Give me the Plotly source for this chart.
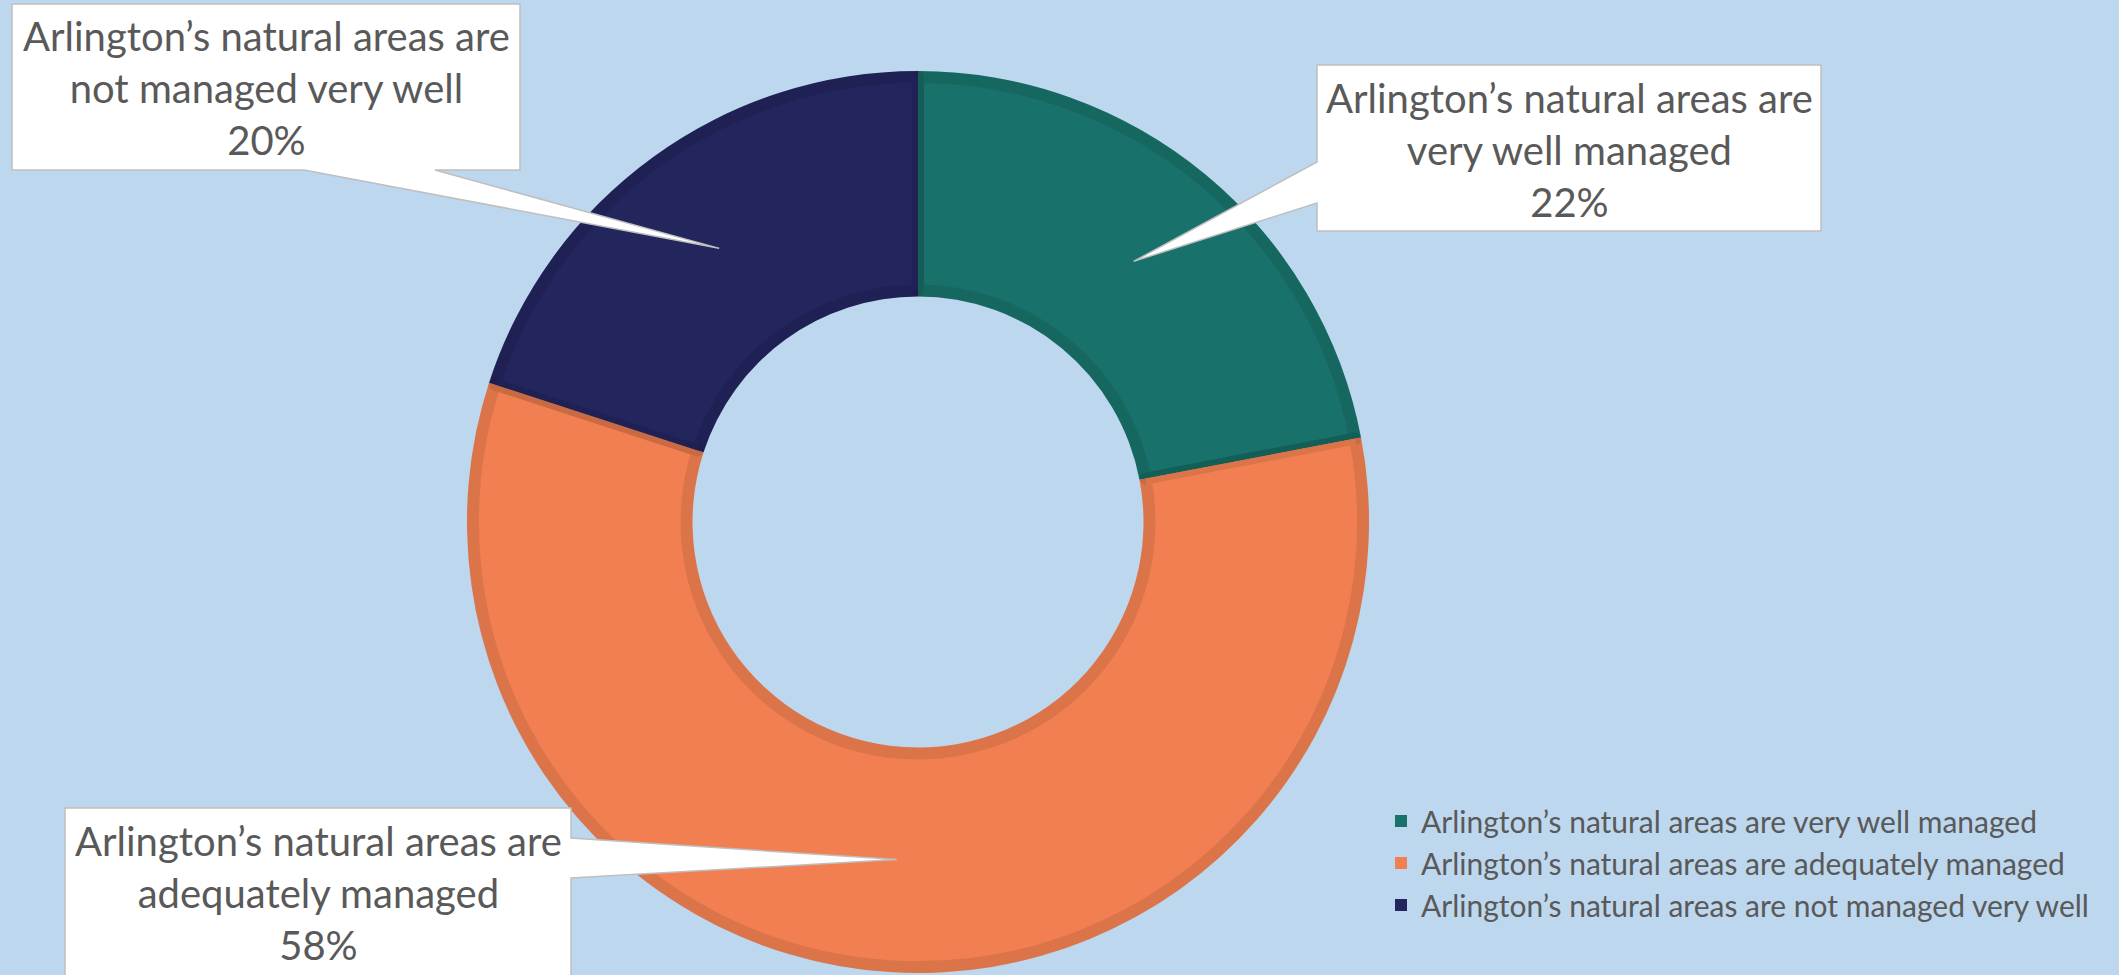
import math
import plotly.graph_objects as go

# ---- data ----
categories = [
    "Arlington’s natural areas are very well managed",
    "Arlington’s natural areas are adequately managed",
    "Arlington’s natural areas are not managed very well",
]
values = [22, 58, 20]
callout_lines = [
    ["Arlington’s natural areas are", "very well managed"],
    ["Arlington’s natural areas are", "adequately managed"],
    ["Arlington’s natural areas are", "not managed very well"],
]

# ---- style ----
fill_colors = ["#18716A", "#F17F51", "#23255D"]
BG = "#BDD7EE"
TEXT = "#595959"
FONT = "Lato"

W, H = 2119, 975
cx, cy, R = 918, 522, 451
HOLE = 0.5
BW = 12  # slice border width (px)


def px(x):
    return x / W


def py(y):
    return 1 - y / H


def dom(radius):
    return dict(x=[px(cx - radius), px(cx + radius)], y=[py(cy + radius), py(cy - radius)])


fig = go.Figure()
# base ring (full size, no outline)
fig.add_trace(go.Pie(
    labels=categories, values=values, hole=HOLE, sort=False,
    direction="clockwise", rotation=0, textinfo="none",
    hoverinfo="label+percent",
    marker=dict(colors=fill_colors, line=dict(width=0)),
    domain=dom(R),
))
# inset ring carrying a darkening outline so every slice shows a darker rim
R2 = R - BW / 2
hole2 = (R * HOLE + BW / 2) / R2
fig.add_trace(go.Pie(
    labels=categories, values=values, hole=hole2, sort=False,
    direction="clockwise", rotation=0, textinfo="none",
    hoverinfo="label+percent", showlegend=False,
    marker=dict(colors=fill_colors, line=dict(color="rgba(0,0,0,0.085)", width=BW)),
    domain=dom(R2),
))

# callout geometry (pixels): rect, side where the pointer leaves, pointer base, text centre
callouts = [
    dict(rect=(1317, 65, 1821, 231), side="left", base=(162, 203), tc=(1569, 150)),
    dict(rect=(65, 808, 571, 990), side="right", base=(838, 878), tc=(318, 893)),
    dict(rect=(12, 4, 520, 170), side="bottom", base=(304, 435), tc=(266, 88)),
]

total = sum(values)
cum = 0
shapes = []
annotations = []
for i, v in enumerate(values):
    mid = (cum + v / 2) / total
    cum += v
    th = mid * 2 * math.pi
    rr = R * (1 + HOLE) / 2
    tx = cx + rr * math.sin(th)
    ty = cy - rr * math.cos(th)
    c = callouts[i]
    l, t, r, b = c["rect"]
    b0, b1 = c["base"]
    if c["side"] == "left":
        pts = [(l, t), (r, t), (r, b), (l, b), (l, b1), (tx, ty), (l, b0)]
    elif c["side"] == "right":
        pts = [(l, t), (r, t), (r, b0), (tx, ty), (r, b1), (r, b), (l, b)]
    else:
        pts = [(l, t), (r, t), (r, b), (b1, b), (tx, ty), (b0, b), (l, b)]
    path = "M " + " L ".join(f"{px(x):.5f},{py(y):.5f}" for x, y in pts) + " Z"
    shapes.append(dict(type="path", xref="paper", yref="paper", path=path,
                       fillcolor="white", line=dict(color="#BFBFBF", width=1.5),
                       layer="above"))
    txt = "<br>".join(callout_lines[i] + [f"{v}%"])
    annotations.append(dict(xref="paper", yref="paper", x=px(c["tc"][0]), y=py(c["tc"][1]),
                            text=txt, showarrow=False, xanchor="center", yanchor="middle",
                            align="center", font=dict(family=FONT, size=40, color=TEXT)))

fig.update_layout(
    width=W, height=H,
    margin=dict(l=0, r=0, t=0, b=0),
    paper_bgcolor=BG, plot_bgcolor=BG,
    shapes=shapes, annotations=annotations,
    showlegend=True,
    legend=dict(x=px(1381), y=py(795), xanchor="left", yanchor="top",
                bgcolor="rgba(0,0,0,0)",
                font=dict(family=FONT, size=30, color=TEXT), tracegroupgap=0),
)

fig.write_html("out.html", config={"displayModeBar": False},
               post_script="document.body.style.margin='0';document.body.style.overflow='hidden';")
